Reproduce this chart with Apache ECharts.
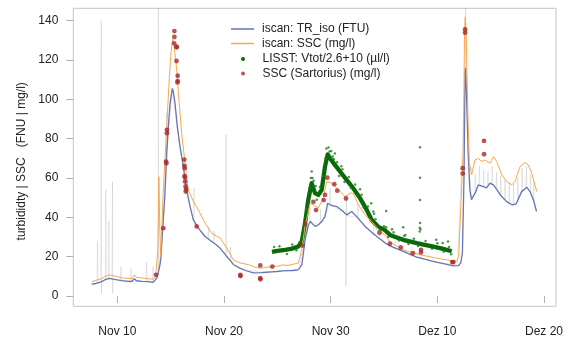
<!DOCTYPE html>
<html>
<head>
<meta charset="utf-8">
<script src="https://cdn.jsdelivr.net/npm/echarts@6/dist/echarts.min.js"></script>
<style>
html,body{margin:0;padding:0;background:#fff;}
#chart{width:569px;height:338px;}
</style>
</head>
<body>
<div id="chart"></div>
<script>
// x values: day number counted from Nov 0 (Dec d = 30 + d)
const xTickDays = [10, 20, 30, 40, 50];
const xTickLabels = ['Nov 10', 'Nov 20', 'Nov 30', 'Dez 10', 'Dez 20'];
const yTicks = [0, 20, 40, 60, 80, 100, 120, 140];

const isoName = 'iscan: TR_iso (FTU)';
const sscName = 'iscan: SSC (mg/l)';
const lisstName = 'LISST: Vtot/2.6+10 (µl/l)';
const labName = 'SSC (Sartorius) (mg/l)';

const isoData = [
 [7.6,6.1],[8.0,6.4],[8.5,7.2],[8.85,8.3],[9.3,9.0],[9.6,8.6],[10.0,8.2],[10.4,7.9],[11.0,7.5],[11.35,7.4],
 [11.6,8.8],[11.8,7.8],[12.3,7.5],[12.9,7.3],[13.37,7.0],[13.55,7.6],[13.7,9.1],[13.85,12],[14.0,15.9],[14.07,18.4],
 [14.3,38],[14.47,52.3],[14.63,72],[14.78,86],[14.95,98],[15.16,105.6],[15.25,104],[15.41,98],[15.63,86],[15.88,76],
 [16.19,65.8],[16.5,54],[16.82,45.5],[17.13,38.7],[17.6,34.5],[18.22,30.3],[18.85,27.7],[19.3,26],[19.63,24.4],[20.0,22],
 [20.26,20.1],[20.6,18],[20.9,15.9],[21.5,14.2],[22.0,13],[22.75,11.8],[23.5,11.9],[24.0,12.1],[24.5,12.3],[25.0,12.5],
 [25.5,12.8],[26.0,12.9],[26.5,13],[27.0,13.5],[27.3,16],[27.45,22],[27.6,28.6],[27.9,36],[28.1,37.9],[28.3,36.7],
 [28.6,35.4],[28.9,36.5],[29.16,37.9],[29.47,40.4],[29.72,47.2],[29.94,46.4],[30.2,46],[30.57,45.5],[31.19,43],[31.5,41.3],
 [31.97,43],[32.44,40.4],[33.22,35.4],[34.16,31.1],[35.1,27],[35.56,25.5],[36.8,22.7],[38.07,19.8],[39.6,17.6],[41.0,16],
 [41.5,15.4],[42.0,15.5],[42.2,17],[42.35,21.8],[42.5,60],[42.6,114],[42.65,116],[42.75,100],[42.9,72],[43.05,54],
 [43.2,49],[43.37,48],[43.6,53],[43.84,56.5],[44.3,55.7],[44.6,55],[44.94,57.4],[45.25,56.5],[45.6,54],[45.9,51.4],
 [46.5,48],[47.0,46.4],[47.4,46.9],[47.9,53.1],[48.4,55.3],[48.7,53],[49.0,49],[49.3,43]
];

const sscData = [
 [7.6,7.2],[7.9,7.9],[8.5,8.8],[8.85,10],[9.3,10.8],[9.6,10.3],[10.0,9.8],[10.5,9.2],[11.0,9.0],[11.4,8.9],
 [11.6,10.8],[11.8,9.5],[12.3,9.2],[12.9,8.8],[13.37,8.6],[13.6,10],[13.8,23.5],[13.9,60.7],[13.98,35],[14.07,20],
 [14.3,52.3],[14.63,86],[14.88,111.5],[15.05,125],[15.19,130.5],[15.35,126],[15.57,115],[15.81,98],[16.03,82.8],[16.35,67.5],
 [16.66,54],[17.13,48],[17.6,43.8],[18.22,37.1],[18.85,32],[19.3,30.5],[19.63,29.5],[20.0,26.5],[20.26,24.4],[20.88,18.4],
 [21.5,16.8],[22.3,16],[23.0,14.5],[23.5,14.2],[24.0,14.6],[24.53,15],[25.0,15.2],[25.5,15.8],[26.0,15.6],[26.5,16.2],
 [26.97,16.8],[27.29,23.5],[27.6,35.4],[28.07,47.2],[28.38,46.4],[28.84,44.7],[29.3,49.8],[29.63,58.2],[30.1,57.4],[30.72,54],
 [31.35,50.6],[31.82,52.3],[32.12,52.3],[32.6,46.4],[33.22,41.3],[33.85,37.9],[34.63,33],[35.1,31],[35.56,27.5],[36.8,23.5],
 [38.38,21],[39.9,19.3],[41.2,18.1],[41.8,17.5],[42.0,20],[42.2,45],[42.44,75],[42.55,135],[42.62,142],[42.7,135],
 [42.85,95],[43.0,68],[43.22,61.6],[43.37,62],[43.53,69.2],[43.84,70],[44.16,68.4],[44.47,69.2],[44.94,67.5],[45.25,70.9],
 [45.57,68.4],[46.04,61.6],[46.5,58.2],[46.97,56.5],[47.28,58.2],[47.75,65.8],[48.22,67.9],[48.53,66.7],[48.85,62.5],[49.32,53.1]
];

const lisstData = [
 [24.5,22.5],[25.0,23],[25.72,23.5],[26.3,24],[26.97,25.2],[27.29,27.7],[27.6,37],[27.9,48.9],[28.22,57.4],[28.53,52.3],
 [28.84,51.4],[29.16,54],[29.47,65.8],[29.72,72],[29.94,70.1],[30.4,66.7],[30.88,63.3],[31.5,59.1],[32.12,54.8],[32.75,49.8],
 [33.38,43.8],[33.85,38.7],[34.47,35.2],[35.1,33.5],[35.56,31.1],[36.2,29.8],[36.8,28.6],[37.4,27.8],[38.07,26.9],[38.7,26.2],
 [39.3,25.5],[40.25,24.4],[40.8,23.6],[41.35,22.8]
];

// LISST samples scattered around the dense band and isolated outliers
const lisstPoints = [
 [24.7,25],[25.2,25.3],[25.9,21.4],[26.4,26.2],[26.8,23.3],[27.1,27.5],[27.5,34],[27.75,44],[28.0,55],[28.15,60],
 [28.4,58.6],[28.7,49],[29.0,55.5],[29.3,61],[29.6,75],[29.8,75.5],[30.05,73.7],[30.3,69.5],[30.6,68],[30.8,61],
 [31.1,64.5],[31.3,58],[31.7,60.5],[31.9,55],[32.3,56.7],[32.5,51],[32.9,51.5],[33.1,45],[33.5,45.5],[33.7,39],
 [34.2,39],[34.6,33.5],[35.0,35.5],[35.4,30],[35.9,32.5],[36.4,28.2],[36.9,30.5],[37.3,26.5],[37.8,29.2],[38.2,25.5],
 [38.9,28],[39.5,24],[40.0,26.8],[40.6,22.5],[41.1,25],[41.3,21.2],
 [28.22,63.3],[28.3,60],[27.9,52],[28.6,56],[29.5,70],[29.9,73.5],[30.2,71],[30.4,72.5],[31.0,66],[32.75,54.3],
 [33.8,47.2],[34.0,43],[34.07,41.8],[35.2,43.3],[35.2,35],[35.75,34],[36.8,35],[38.38,75.7],[38.38,60.2],[38.38,48.9],
 [38.38,37.1],[38.35,34.7],[38.42,34],[38.35,32.8],[39.9,28.6],[41.0,27.7],[37.0,31],[40.5,27]
];

const labData = [
 [13.63,10.8],[14.31,34.5],[14.57,68.4],[14.6,67.5],[14.65,84.5],[14.65,82.8],[15.35,134.7],[15.35,131.7],[15.33,128.5],[15.55,126.8],
 [15.57,126.5],[15.55,119.5],[15.66,112],[15.66,109.3],[15.64,108.6],[16.28,69.4],[16.3,66.2],[16.32,65],[16.3,61],[16.34,60.3],
 [16.35,58.2],[16.4,55.7],[16.45,54.3],[16.42,53.1],[17.44,35.4],[21.53,10.7],[21.55,10.2],[23.4,15.6],[23.4,9.1],[23.42,8.5],
 [24.53,15],[27.35,25.7],[27.6,36.7],[28.38,47.9],[28.63,43.7],[29.35,48.8],[29.47,51.4],[29.69,60.2],[30.34,56.9],[30.62,53.6],
 [31.44,49.6],[34.58,32.2],[35.56,26.6],[36.57,24.7],[37.7,21.8],[38.47,23.5],[38.47,22.2],[41.4,17.3],[41.5,17.3],[42.38,65],
 [42.38,62.3],[42.6,135.6],[42.6,133.9],[44.38,78.9],[44.38,72.1]
];

// raw (unfiltered) turbidity trace drawn in light grey behind
const rawData = [
 [7.6,6],[8.1,6.5],[8.15,28],[8.2,6.5],[8.45,7],[8.5,140],[8.52,1.5],[8.55,7.5],[8.9,8.3],[8.92,54],
 [8.95,8],[9.15,9],[9.2,38],[9.25,9],[9.5,8.8],[9.55,58],[9.57,1.5],[9.6,8.6],[10.3,8],[10.35,15],
 [10.4,8],[11.2,7.5],[11.3,14],[11.35,7.4],[12.0,7.6],[12.7,7.3],[12.75,17],[12.8,7.3],[13.3,7],[13.35,15],
 [13.4,7],[13.84,12],[13.85,150],[13.87,13],[14.3,38],[14.6,72],[14.62,93],[14.65,74],[15.16,105],[15.6,86],
 [16.5,54],[17.1,39],[17.2,55],[17.25,37],[18.5,29],[18.55,35],[18.6,29],[19.0,27],[19.05,33],[19.1,27],
 [20.15,21],[20.2,82],[20.25,20],[20.6,18],[20.62,25],[20.65,18],[21.5,14],[23.5,12],[25.5,13],[27.0,13.5],
 [27.6,28],[28.0,37],[28.05,45],[28.1,38],[29.0,36],[29.05,44],[29.1,37],[29.9,46],[29.95,55],[30.0,46],
 [31.42,42],[31.44,5],[31.46,50],[31.5,41],[32.5,40],[32.55,47],[32.6,40],[34.0,31],[34.05,36],[35.0,28],
 [36.0,24],[36.05,28],[37.5,20],[37.55,25],[38.5,19],[38.55,24],[40.0,17],[41.9,16],[42.6,110],[42.65,150],
 [42.7,105],[42.9,70],[43.2,50],[43.5,52],[43.55,62],[43.6,53],[43.9,57],[43.95,66],[44.0,56],[44.3,56],
 [44.35,64],[44.4,55],[44.7,55],[44.75,63],[44.8,56],[45.1,57],[45.15,66],[45.2,57],[45.5,55],[45.55,63],
 [45.6,54],[45.9,51],[45.95,61],[46.0,51],[46.3,49],[46.35,59],[46.4,49],[46.7,47],[46.75,58],[46.8,47],
 [47.1,46],[47.15,57],[47.2,46],[47.5,48],[47.55,60],[47.6,49],[47.9,53],[47.95,65],[48.0,53],[48.3,55],
 [48.35,66],[48.4,55],[48.7,53],[48.75,62],[48.8,52],[49.0,49],[49.05,58],[49.1,48],[49.3,43]
];

const FONT = 'Liberation Sans, Arial, sans-serif';
const C_ISO = '#6576b2', C_SSC = '#fba650', C_LISST = '#0a6a0a', C_LAB = '#a92a2a';
const legendText = {fontFamily: FONT, fontSize: 12, color: '#222', lineHeight: 14, padding: [0, 0, 0, 3]};
const chart = echarts.init(document.getElementById('chart'), null, {renderer: 'canvas'});
chart.setOption({
  animation: false,
  backgroundColor: '#fff',
  textStyle: {fontFamily: FONT},
  grid: {left: 73.3, right: 13, top: 8.3, bottom: 31.7, show: true, borderColor: '#c4c4c4', borderWidth: 1, backgroundColor: 'transparent'},
  legend: [
    {orient: 'vertical', left: 226, top: 17, itemWidth: 23, itemHeight: 1.5, itemGap: 0.5, icon: 'rect',
     textStyle: legendText,
     data: [{name: isoName, itemStyle: {color: C_ISO}}, {name: sscName, itemStyle: {color: C_SSC}}]},
    {orient: 'vertical', left: 236, top: 47, itemWidth: 23, itemHeight: 4, itemGap: 0.5, icon: 'circle',
     textStyle: legendText,
     data: [{name: lisstName, itemStyle: {color: C_LISST}}, {name: labName, itemStyle: {color: C_LAB}}]}
  ],
  xAxis: {
    type: 'value', min: 5.875, max: 51.125,
    splitLine: {show: false}, axisLine: {show: false},
    axisTick: {show: true, length: 7, customValues: xTickDays, lineStyle: {color: '#b0b0b0'}},
    axisLabel: {customValues: xTickDays, margin: 19, fontSize: 12, color: '#222', fontFamily: FONT,
      formatter: v => { const i = xTickDays.indexOf(Math.round(v)); return i >= 0 ? xTickLabels[i] : ''; }}
  },
  yAxis: {
    type: 'value', min: -5.2, max: 146.3,
    name: 'turbididty | SSC   (FNU | mg/l)', nameLocation: 'middle', nameGap: 44, nameRotate: 90,
    nameTextStyle: {fontSize: 12, color: '#222', fontFamily: FONT, padding: [0, 8, 0, 0]},
    splitLine: {show: false}, axisLine: {show: false},
    axisTick: {show: true, length: 7, customValues: yTicks, lineStyle: {color: '#b0b0b0'}},
    axisLabel: {customValues: yTicks, margin: 15, fontSize: 12, color: '#222', fontFamily: FONT}
  },
  series: [
    {name: 'raw', type: 'line', data: rawData, symbol: 'none', silent: true, z: 1,
     lineStyle: {color: 'rgba(150,150,150,0.28)', width: 0.8}},
    {name: isoName, type: 'line', data: isoData, symbol: 'none', z: 2, color: C_ISO,
     lineStyle: {color: C_ISO, width: 1.3}},
    {name: lisstName, type: 'line', data: lisstData, symbol: 'none', z: 3, color: C_LISST,
     lineStyle: {color: C_LISST, width: 4.3, join: 'round'}},
    {name: lisstName, type: 'scatter', data: lisstPoints, symbol: 'circle', symbolSize: 2.5, z: 3,
     itemStyle: {color: '#1f7d1f'}},
    {name: sscName, type: 'line', data: sscData, symbol: 'none', z: 4, color: C_SSC,
     lineStyle: {color: C_SSC, width: 1}},
    {name: labName, type: 'scatter', data: labData, symbol: 'circle', symbolSize: 4.8, z: 5,
     itemStyle: {color: C_LAB}}
  ]
});
</script>
</body>
</html>
